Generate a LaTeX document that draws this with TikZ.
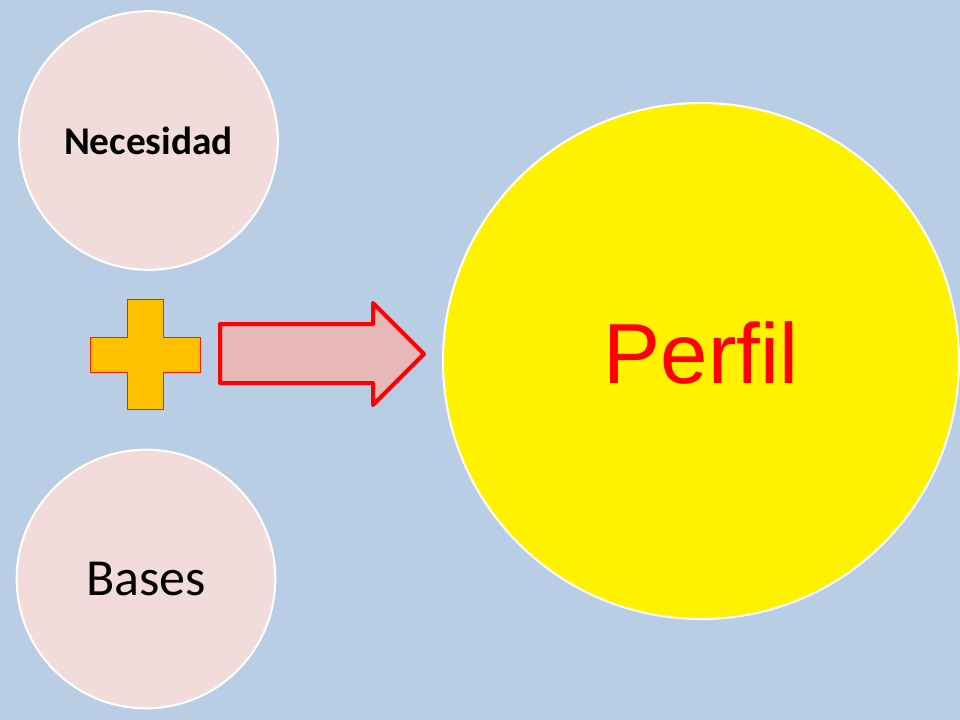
\documentclass[tikz,border=0pt]{standalone}
\usepackage{fontspec}
\usepackage{tkz-euclide}
\usepackage{tikz}
\setmainfont{Carlito}
\newfontfamily\perfilfont{Liberation Sans}
\definecolor{fondo}{HTML}{B9CDE5}
\definecolor{rosa}{HTML}{F2DCDB}
\definecolor{naranja}{HTML}{FFC000}
\definecolor{rosaflecha}{HTML}{E6B9B8}
\tikzset{
  burbuja/.style={circle, draw=white, line width=1.5pt, fill=rosa, inner sep=0pt},
}
\begin{document}
\begin{tikzpicture}[x=0.75pt, y=-0.75pt]
    \fill[fondo] (0,0) rectangle (960,720);
    \useasboundingbox (0,0) rectangle (960,720);
    \node[burbuja, minimum size=194pt, font=\bfseries\fontsize{29.5}{34}\selectfont] (nec) at (148.5,140.5) {Necesidad};
    \node[burbuja, minimum size=194pt, font=\fontsize{39}{46}\selectfont] (bas) at (146,579) {Bases};
    \node[burbuja, fill=yellow, minimum size=387pt, font=\perfilfont\fontsize{64}{76}\selectfont, text=red] (per) at (701,361) {\raisebox{12pt}{Perfil}};
    \tkzDefPoints{127/299/P1,163/299/P2,163/337/P3,200/337/P4,200/372/P5,163/372/P6,
      163/409/P7,127/409/P8,127/372/P9,90/372/P10,90/337/P11,127/337/P12}
    \tkzDrawPolygon[draw=red!80!orange, line width=0.6pt, fill=naranja](P1,P2,P3,P4,P5,P6,P7,P8,P9,P10,P11,P12)
    \tkzDefPoints{220/324/F1,373/324/F2,373/303/F3,424/354/F4,373/405/F5,373/383/F6,220/383/F7}
    \tkzDrawPolygon[draw=red, line width=3pt, fill=rosaflecha](F1,F2,F3,F4,F5,F6,F7)
\end{tikzpicture}
\end{document}
